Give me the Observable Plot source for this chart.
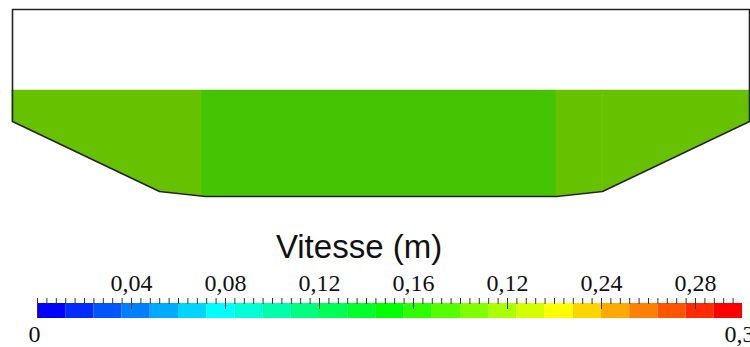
<!DOCTYPE html>
<html>
<head>
<meta charset="utf-8">
<script src="https://cdn.jsdelivr.net/npm/d3@7"></script>
<script src="https://cdn.jsdelivr.net/npm/@observablehq/plot@0.6"></script>
<style>
  html, body { margin: 0; padding: 0; background: #fff; }
  #chart svg { display: block; }
</style>
</head>
<body>
<div id="chart"></div>
<script>
// ---- Cross-section geometry (m) ----
const stations   = [0, 0, 14.7, 19.3, 54.4, 59.0, 73.7, 73.7];
const elevations = [18.7, 7.5, 0.5, 0.0, 0.0, 0.5, 7.5, 18.7];
const waterLevel = 10.6;

// ---- Velocity zones ----
const zoneBounds   = [0, 19.0, 54.4, 59.0, 73.7];
const zoneVelocity = [0.19, 0.18, 0.19, 0.19];

// ---- Colour bar ----
const barMin = 0, barMax = 0.3;
const bandColors = [
  "#0000ff", "#002bff", "#0055ff", "#0080ff", "#00aaff", "#00d5ff", "#00ffff",
  "#00ffd5", "#00ffaa", "#00ff80", "#00ff55", "#00ff2b", "#00ff00",
  "#2bff00", "#55ff00", "#80ff00", "#aaff00", "#d5ff00", "#ffff00",
  "#ffd500", "#ffaa00", "#ff8000", "#ff5500", "#ff2b00", "#ff0000"
];
const tickValues = [0.04, 0.08, 0.12, 0.16, 0.20, 0.24, 0.28];
const tickLabels = ["0,04", "0,08", "0,12", "0,16", "0,12", "0,24", "0,28"];
const endValues  = [0, 0.3];
const endLabels  = ["0", "0,3"];
const titleText = "Vitesse (m)";

// shaded zone colours (rendered look)
const zoneFill = v => v < 0.185 ? "#44c402" : "#66c200";

// bed profile (the part of the outline below the banks)
const bedX = stations.slice(1, 7), bedY = elevations.slice(1, 7);
const bedAt = x => {
  for (let i = 0; i < bedX.length - 1; i++) {
    if (x >= bedX[i] && x <= bedX[i + 1]) {
      const t = (x - bedX[i]) / (bedX[i + 1] - bedX[i] || 1);
      return bedY[i] + t * (bedY[i + 1] - bedY[i]);
    }
  }
  return bedY[bedY.length - 1];
};

const zones = zoneVelocity.map((v, k) => {
  const a = zoneBounds[k], b = zoneBounds[k + 1];
  const xs = [a, ...bedX.filter(x => x > a && x < b), b];
  return {v, pts: xs.map(x => ({x, bed: bedAt(x), water: waterLevel}))};
});

const outline = stations.map((x, i) => ({x, y: elevations[i]}));
outline.push(outline[0]);

const topPlot = Plot.plot({
  width: 750, height: 220,
  marginTop: 9, marginBottom: 24, marginLeft: 12, marginRight: 1,
  x: {domain: [0, 73.7], axis: null},
  y: {domain: [0, 18.7], axis: null},
  marks: [
    ...zones.map(z => Plot.areaY(z.pts, {x: "x", y1: "bed", y2: "water", fill: zoneFill(z.v), stroke: zoneFill(z.v), strokeWidth: 0.5})),
    Plot.ruleX([zoneBounds[3]], {y1: d => bedAt(d), y2: waterLevel, stroke: "#7cc000", strokeWidth: 1}),
    Plot.line(outline, {x: "x", y: "y", stroke: "#222", strokeWidth: 1.6})
  ]
});

const nb = bandColors.length;
const bw = (barMax - barMin) / nb;
const bands = bandColors.map((c, i) => ({x1: barMin + i * bw, x2: barMin + (i + 1) * bw, c}));
const minor = d3.range(barMin + 0.004, barMax - 0.001, 0.004);

const bottomPlot = Plot.plot({
  width: 750, height: 127,
  marginTop: 83, marginBottom: 29, marginLeft: 37, marginRight: 8,
  x: {domain: [barMin, barMax], axis: null},
  style: {fontFamily: "'Liberation Serif', 'Times New Roman', serif", color: "#111"},
  marks: [
    Plot.barX(bands, {x1: "x1", x2: "x2", fill: "c"}),
    Plot.ruleX(minor, {stroke: "#333", strokeWidth: 1, insetTop: -5, insetBottom: 14}),
    Plot.ruleX(tickValues, {stroke: "#333", strokeWidth: 1, insetTop: -5, insetBottom: 9}),
    Plot.ruleX([barMin], {stroke: "#333", strokeWidth: 1, insetTop: -5, insetBottom: 0}),
    Plot.text(tickLabels, {x: (d, i) => tickValues[i], text: d => d, frameAnchor: "top", lineAnchor: "bottom", dy: -13, fontSize: 24, fill: "#111"}),
    Plot.text(endLabels, {x: (d, i) => endValues[i], text: d => d, frameAnchor: "bottom", lineAnchor: "bottom", dy: 23, dx: -3, fontSize: 24, fill: "#111"}),
    Plot.text([titleText], {frameAnchor: "top", lineAnchor: "bottom", dy: -46, dx: -31, fontSize: 33, fontFamily: "'Liberation Sans', Arial, sans-serif", fill: "#111"})
  ]
});

const root = document.getElementById("chart");
root.append(topPlot, bottomPlot);
</script>
</body>
</html>
